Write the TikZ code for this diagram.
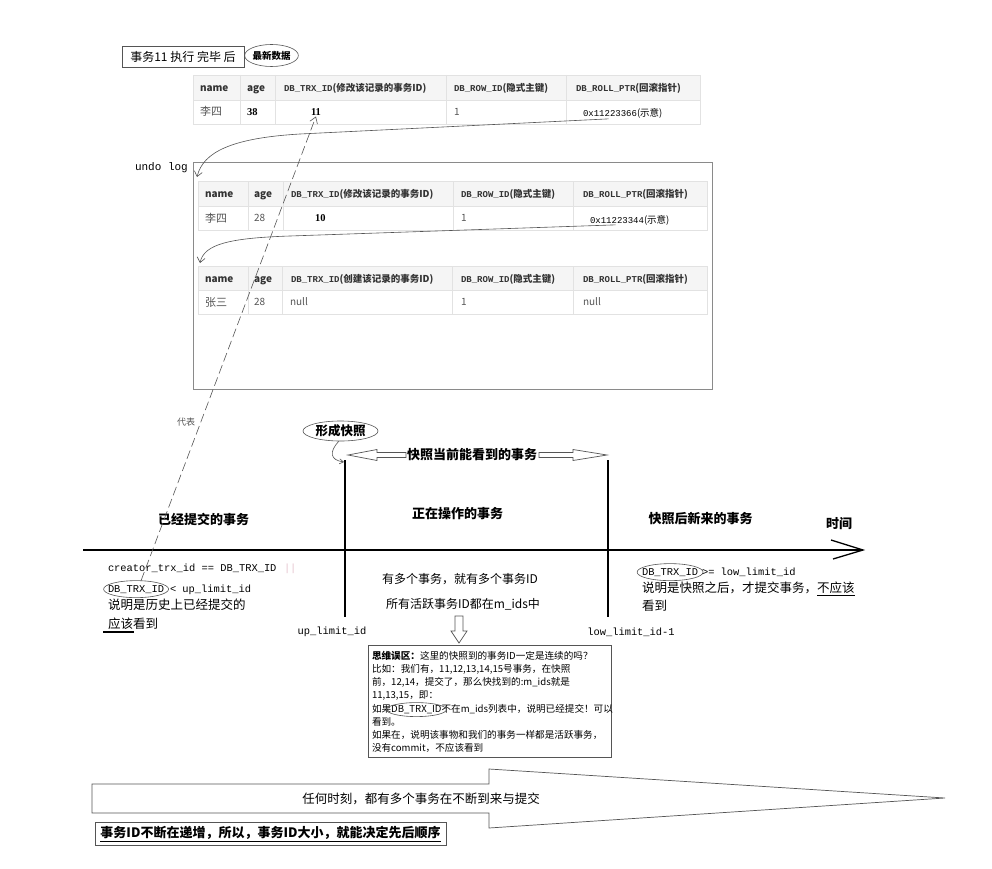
\documentclass[tikz,border=0pt]{standalone}
\usepackage{fontspec}
\setmainfont{Noto Sans CJK SC}
\newfontfamily\monof{Liberation Mono}
\newfontfamily\serf{Liberation Serif}
\usetikzlibrary{shapes.geometric,arrows.meta}
\definecolor{tblc}{HTML}{E2E2E2}
\definecolor{hdrc}{HTML}{F5F5F5}
\definecolor{hdtx}{HTML}{333333}
\definecolor{dtx}{HTML}{555555}
\definecolor{lnc}{HTML}{555555}
\definecolor{boxc}{HTML}{8A8A8A}
\definecolor{pinkc}{HTML}{E6C3CF}
\newcommand\fs[1]{\fontsize{#1}{#1}\selectfont}
\newcommand\hdcell[2]{{\monof\bfseries\fs{9}#1}{\bfseries\fs{9.5}#2}}
\tikzset{
  txt/.style={inner sep=0pt, outer sep=0pt, anchor=west},
  tb/.style={inner sep=0pt, outer sep=0pt, anchor=base west},
  hd/.style={tb, text=hdtx, font=\bfseries\fs{10}},
  hdc/.style={tb, text=hdtx},
  dt/.style={tb, text=dtx, font=\fs{10}},
  dcn/.style={tb, text=dtx, font=\fs{11}},
  num/.style={tb, text=black, font=\serf\bfseries\fs{10.5}},
  gridln/.style={draw=tblc, line width=0.7pt},
  code/.style={txt, font=\monof\fs{10.4}},
  cn/.style={txt, font=\fs{12.5}},
  nt/.style={txt, font=\fs{9.6}},
  sec/.style={inner sep=0pt, font=\bfseries\fs{13}},
  oval/.style={draw=lnc, ellipse, line width=0.6pt, inner sep=0pt},
  thinln/.style={draw=lnc, line width=0.6pt},
  bar/.style={line width=1.3pt},
  hollow/.style={draw=lnc, line width=0.7pt, fill=white},
  curv/.style={draw=lnc, line width=0.6pt, -{Straight Barb[length=5pt,width=8pt]}},
  dashln/.style={draw=lnc, line width=0.6pt, dash pattern=on 9pt off 4pt, -{Straight Barb[length=6pt,width=8pt]}},
}
\begin{document}
\begin{tikzpicture}[x=1pt,y=-1pt]
\useasboundingbox[fill=white] (0,0) rectangle (992,869);

% ---- top caption
\node[draw=lnc, line width=0.6pt, minimum width=122, minimum height=21, inner sep=0pt, font=\fs{12}] (top) at (183,56.5) {事务11 执行 完毕 后};
\node[oval, minimum width=53, minimum height=22, font=\bfseries\fs{9.5}] (newest) at (271.5,55.5) {最新数据};

% ---- table 1 (current row)
\fill[hdrc] (193,75) rectangle (700,100);
\draw[gridln] (193,75) rectangle (700,124) (193,100) -- (700,100)
  (240,75) -- (240,124) (275,75) -- (275,124) (446,75) -- (446,124) (566,75) -- (566,124);
\node[hd] (h1a) at (200,91.5) {name};
\node[hd] (h1b) at (247,91.5) {age};
\node[hdc] (h1c) at (284,91.5) {\hdcell{DB\_TRX\_ID}{(修改该记录的事务ID)}};
\node[hdc] (h1d) at (454,91.5) {\hdcell{DB\_ROW\_ID}{(隐式主键)}};
\node[hdc] (h1e) at (576,91.5) {\hdcell{DB\_ROLL\_PTR}{(回滚指针)}};
\node[dcn] (d1a) at (200,116) {李四};
\node[num] (d1b) at (247,115.5) {38};
\node[num] (d1c) at (311,115.5) {11};
\node[dt] (d1d) at (454,115.5) {1};
\node[tb] (d1e) at (583,117) {{\monof\fs{9}0x11223366}{\fs{9.5}(示意)}};

% ---- undo log
\node[txt, font=\monof\fs{11}] (ulog) at (135,168) {undo log};
\node[draw=boxc, line width=0.7pt, minimum width=519, minimum height=227, inner sep=0pt] (undo) at (452.5,275.5) {};

% table 2
\fill[hdrc] (198,181) rectangle (707,206);
\draw[gridln] (198,181) rectangle (707,230) (198,206) -- (707,206)
  (248,181) -- (248,230) (283,181) -- (283,230) (453,181) -- (453,230) (573,181) -- (573,230);
\node[hd] (h2a) at (205,197.5) {name};
\node[hd] (h2b) at (254,197.5) {age};
\node[hdc] (h2c) at (291,197.5) {\hdcell{DB\_TRX\_ID}{(修改该记录的事务ID)}};
\node[hdc] (h2d) at (461,197.5) {\hdcell{DB\_ROW\_ID}{(隐式主键)}};
\node[hdc] (h2e) at (583,197.5) {\hdcell{DB\_ROLL\_PTR}{(回滚指针)}};
\node[dcn] (d2a) at (205,222) {李四};
\node[dt] (d2b) at (254,221.5) {28};
\node[num] (d2c) at (315,221.5) {10};
\node[dt] (d2d) at (461,221.5) {1};
\node[tb] (d2e) at (590,223) {{\monof\fs{9}0x11223344}{\fs{9.5}(示意)}};

% table 3
\fill[hdrc] (198,266) rectangle (707,290);
\draw[gridln] (198,266) rectangle (707,314) (198,290) -- (707,290)
  (248,266) -- (248,314) (282,266) -- (282,314) (452,266) -- (452,314) (573,266) -- (573,314);
\node[hd] (h3a) at (205,282) {name};
\node[hd] (h3b) at (254,282) {age};
\node[hdc] (h3c) at (291,282) {\hdcell{DB\_TRX\_ID}{(创建该记录的事务ID)}};
\node[hdc] (h3d) at (461,282) {\hdcell{DB\_ROW\_ID}{(隐式主键)}};
\node[hdc] (h3e) at (583,282) {\hdcell{DB\_ROLL\_PTR}{(回滚指针)}};
\node[dcn] (d3a) at (205,306) {张三};
\node[dt] (d3b) at (254,305.5) {28};
\node[dt] (d3c) at (290,305.5) {null};
\node[dt] (d3d) at (461,305.5) {1};
\node[dt] (d3e) at (583,305.5) {null};

% roll pointers
\coordinate (u1) at (197,177);
\coordinate (u2) at (200,263);
\draw[curv] ([xshift=-14pt]d1e.south) -- (300,134) .. controls (232,138) and (203,152) .. (u1);
\draw[curv] ([xshift=-14pt]d2e.south) -- (290,236) .. controls (230,238) and (204,244) .. (u2);

% ---- timeline
\coordinate (ax0) at (83,550);
\coordinate (ax1) at (863,550);
\draw[bar] (ax0) -- (ax1);
\draw[bar] (831,540) -- (ax1) -- (833,559);
\node[sec] (tm) at (839,524) {时间};
\coordinate (v1t) at (345,460); \coordinate (v1b) at (345,617);
\coordinate (v2t) at (608,460); \coordinate (v2b) at (608,617);
\draw[bar] (v1t) -- (v1b);
\draw[bar] (v2t) -- (v2b);

\node[oval, minimum width=75, minimum height=20, font=\bfseries\fs{12.5}] (snap) at (340.5,431) {形成快照};
\draw[thinln, -{Straight Barb[length=4pt,width=5pt]}] (snap.260) .. controls (329,452) and (330,460) .. ([xshift=-1pt,yshift=-2pt]v1t);

\node[sec] (vis) at (472,455) {快照当前能看到的事务};
\draw[hollow] (406,452.5) -- (377,452.5) -- (377,449.5) -- (348,455) -- (377,460.5) -- (377,457.5) -- (406,457.5) -- cycle;
\draw[hollow] (539,452.5) -- (573,452.5) -- (573,449.5) -- (607,455) -- (573,460.5) -- (573,457.5) -- (539,457.5) -- cycle;

\node[sec] (s1) at (203.5,519) {已经提交的事务};
\node[sec] (s2) at (457.5,514) {正在操作的事务};
\node[sec] (s3) at (700.5,519) {快照后新来的事务};

% ---- left region
\node[code, anchor=base west] (cr) at (108,571) {creator\_trx\_id == DB\_TRX\_ID};
\node[code, anchor=base west, text=pinkc] (orr) at (284,571) {||};
\node[code, anchor=base west] (e1t) at (108,592) {DB\_TRX\_ID};
\node[oval, minimum width=65, minimum height=17] (e1) at (e1t.center) {};
\node[code, anchor=base west] (e1r) at (170,592) {< up\_limit\_id};
\node[cn] (l2) at (108,605) {说明是历史上已经提交的};
\node[cn] (l3) at (108,624) {应该看到};
\draw[line width=1.2pt] (103,632) -- (134,632);
\node[inner sep=0pt, font=\monof\fs{10.4}] (upl) at (332,632) {up\_limit\_id};

% dashed "represents" link
\draw[dashln] (e1.60) -- ([yshift=-1pt]d1c.south);
\node[inner sep=0pt, font=\fs{9}, text=dtx] (rep) at (186,422) {代表};

% ---- middle region
\node[inner sep=0pt, font=\fs{12}] (m1) at (460,579) {有多个事务，就有多个事务ID};
\node[inner sep=0pt, font=\fs{12}] (m2) at (463,604) {所有活跃事务ID都在m\_ids中};
\node[inner sep=0pt, font=\monof\fs{10.4}] (lowl) at (631,632) {low\_limit\_id-1};
\draw[hollow] (455,616) -- (463,616) -- (463,631) -- (467,631) -- (459,643) -- (451,631) -- (455,631) -- cycle;

% note box
\node[draw=lnc, line width=0.7pt, minimum width=243, minimum height=112, inner sep=0pt, anchor=north west] (note) at (368,645) {};
\node[nt] (n1) at (372,656) {{\bfseries 思维误区：}这里的快照到的事务ID一定是连续的吗？};
\node[nt] (n2) at (372,669.2) {比如：我们有，11,12,13,14,15号事务，在快照};
\node[nt] (n3) at (372,682.4) {前，12,14，提交了，那么快找到的:m\_ids就是};
\node[nt] (n4) at (372,695.6) {11,13,15，即：};
\node[nt] (n5a) at (372,708.8) {如果};
\node[nt, anchor=base west] (n5b) at (n5a.base east) {DB\_TRX\_ID};
\node[nt, anchor=base west] (n5c) at (n5b.base east) {不在m\_ids列表中，说明已经提交！可以};
\node[oval, minimum width=60, minimum height=14] (e3) at (n5b.center) {};
\node[nt] (n6) at (372,722) {看到。};
\node[nt] (n7) at (372,735.2) {如果在，说明该事物和我们的事务一样都是活跃事务，};
\node[nt] (n8) at (372,748.4) {没有commit，不应该看到};

% ---- right region
\node[code, anchor=base west] (e2t) at (642,575) {DB\_TRX\_ID};
\node[oval, minimum width=66, minimum height=17] (e2) at (e2t.center) {};
\node[code, anchor=base west] (e2r) at (702,575) {>= low\_limit\_id};
\node[cn] (r2) at (642,589) {说明是快照之后，才提交事务，\underline{不应该}};
\node[cn] (r3) at (642,606) {看到};

% ---- bottom
\draw[draw=lnc, line width=0.7pt] (92,784) -- (489,784) -- (489,769) -- (945,798) -- (489,828) -- (489,813) -- (92,813) -- cycle;
\node[inner sep=0pt, font=\fs{12.5}] (bt) at (421,799) {任何时刻，都有多个事务在不断到来与提交};
\node[draw=lnc, line width=0.7pt, minimum width=351, minimum height=23, inner sep=0pt, font=\bfseries\fs{13}] (concl) at (270.5,834) {\underline{事务ID不断在递增，所以，事务ID大小，就能决定先后顺序}};
\end{tikzpicture}
\end{document}
